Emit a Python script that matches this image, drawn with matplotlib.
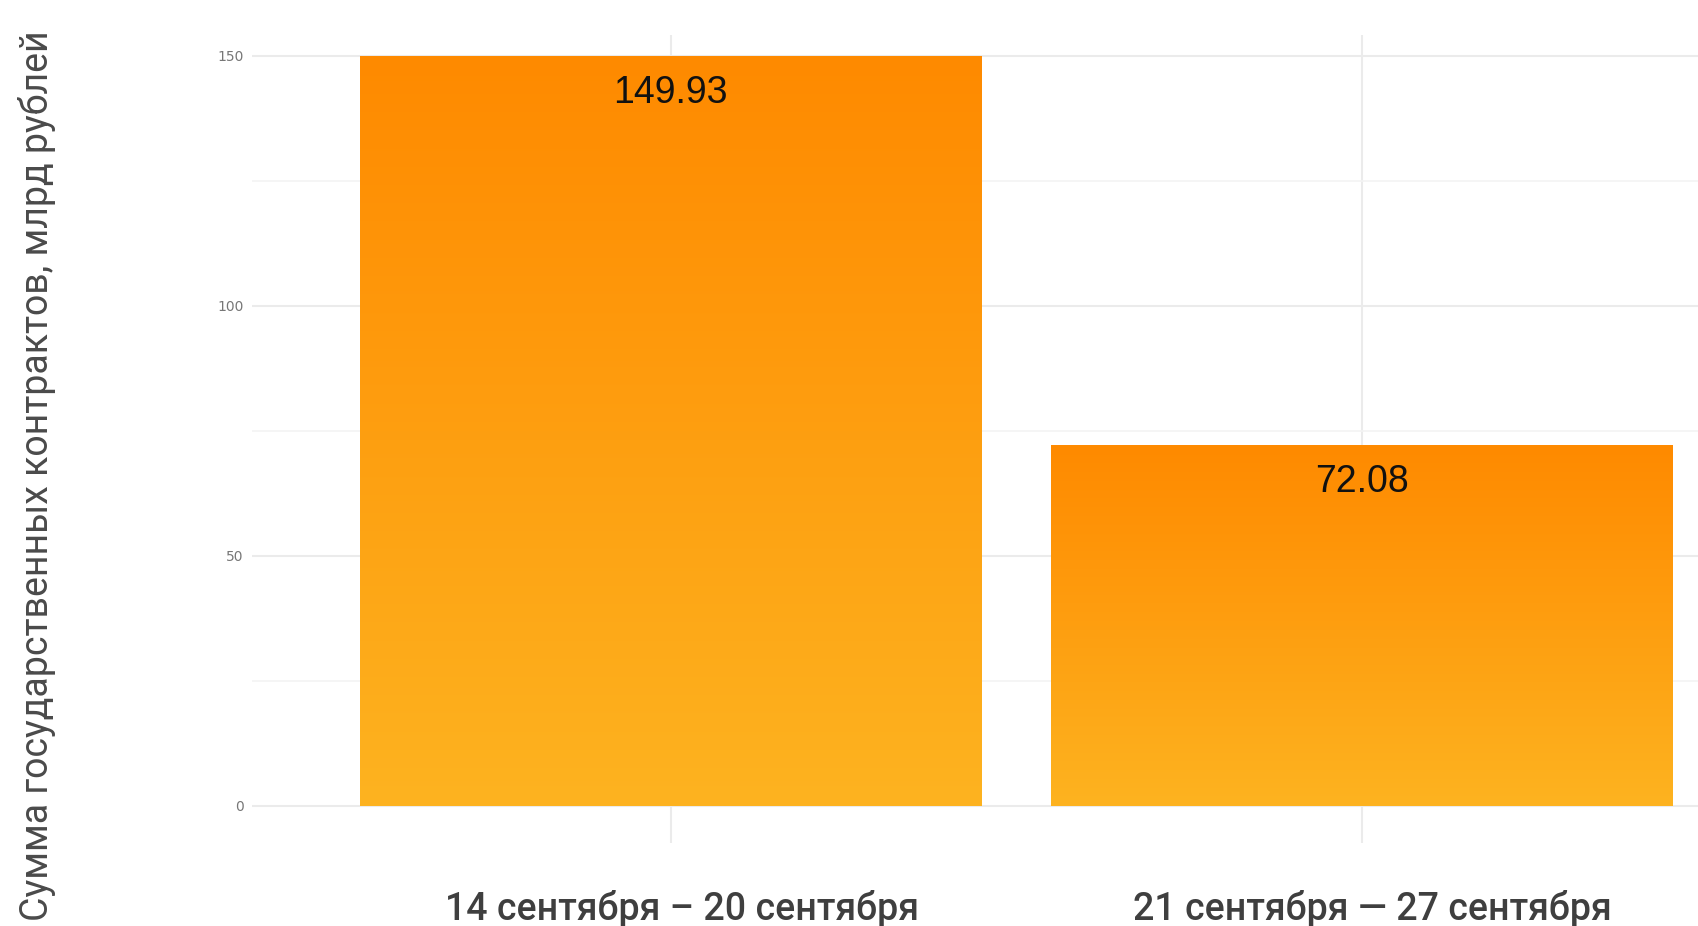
import matplotlib.pyplot as plt
import numpy as np
from matplotlib.colors import LinearSegmentedColormap

# data
periods = ["14 сентября – 20 сентября", "21 сентября — 27 сентября"]
amounts = [149.93, 72.08]
y_ticks = [0, 50, 100, 150]
y_minor = [25, 75, 125]

top_color = "#FF8A00"
bottom_color = "#FDB320"
cmap = LinearSegmentedColormap.from_list("grad", [bottom_color, top_color])

fig = plt.figure(figsize=(16.99, 9.26), dpi=100)
ax = fig.add_axes([0.1483, 0.0896, 0.8517, 0.8726])

x = np.arange(1, len(amounts) + 1)
bars = ax.bar(x, amounts, width=0.9, color="none", edgecolor="none", zorder=2)

grad = np.linspace(0, 1, 256).reshape(-1, 1)
for b in bars:
    x0, y0 = b.get_x(), b.get_y()
    w, h = b.get_width(), b.get_height()
    im = ax.imshow(grad, cmap=cmap, origin="lower", aspect="auto",
                   extent=[x0, x0 + w, y0, y0 + h], zorder=2)
    im.set_clip_path(b)

for xi, v in zip(x, amounts):
    ax.annotate(f"{v:.2f}", (xi, v), xytext=(0, -37), textcoords="offset pixels",
                ha="center", va="center", fontsize=27, color="#111111",
                family="Liberation Sans", zorder=3)

ax.set_xlim(0.394, 2.488)
ax.set_ylim(-7.5, 154.2)

ax.set_yticks(y_ticks)
ax.set_yticks(y_minor, minor=True)
ax.set_yticklabels([str(t) for t in y_ticks], fontsize=10, color="#777777")

# major x ticks carry the gridlines, minor ones (nudged right) carry the labels
ax.set_xticks(x)
ax.set_xticklabels([])
ax.set_xticks(x + 0.016, minor=True)
ax.set_xticklabels(periods, minor=True, fontsize=27, color="#3f3f3f",
                   family="Roboto", fontweight="medium")

ax.tick_params(axis="both", which="both", length=0)
ax.tick_params(axis="x", which="both", pad=34)
ax.tick_params(axis="y", pad=6)

ax.grid(True, which="major", color="#EBEBEB", linewidth=1.5, zorder=0)
ax.grid(True, which="minor", axis="y", color="#F3F3F3", linewidth=1.2, zorder=0)
ax.set_axisbelow(True)
for s in ax.spines.values():
    s.set_visible(False)

fig.text(0.022, 0.486, "Сумма государственных контрактов, млрд рублей",
         rotation=90, ha="center", va="center", fontsize=27,
         color="#4a4a4a", family="Roboto")

fig.savefig("out.png", dpi=100)
